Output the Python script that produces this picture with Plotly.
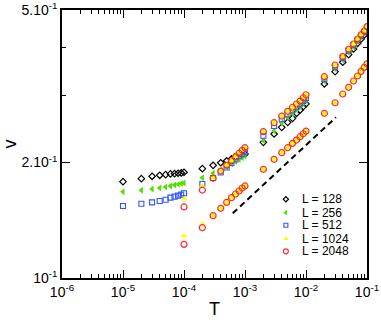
import plotly.graph_objects as go

# Temperatures
T_small = [1e-5, 2e-5, 3e-5, 4e-5, 5e-5, 6e-5, 7e-5, 8e-5, 9e-5, 1e-4,
           2e-4, 3e-4, 4e-4, 5e-4, 6e-4, 7e-4, 8e-4, 9e-4, 1e-3,
           2e-3, 3e-3, 4e-3, 5e-3, 6e-3, 7e-3, 8e-3, 9e-3, 1e-2,
           2e-2, 3e-2, 4e-2, 5e-2, 6e-2, 7e-2, 8e-2, 9e-2, 1e-1]
T_large = [1e-4,
           2e-4, 3e-4, 4e-4, 5e-4, 6e-4, 7e-4, 8e-4, 9e-4, 1e-3,
           2e-3, 3e-3, 4e-3, 5e-3, 6e-3, 7e-3, 8e-3, 9e-3, 1e-2,
           2e-2, 3e-2, 4e-2, 5e-2, 6e-2, 7e-2, 8e-2, 9e-2, 1e-1]

v_128 = [0.1783, 0.1816, 0.1842, 0.1853, 0.1860, 0.1868, 0.1871, 0.1876, 0.1879, 0.1887,
         0.1928, 0.1967, 0.1998, 0.2022, 0.2044, 0.2062, 0.2078, 0.2093, 0.2106,
         0.2259, 0.2375, 0.2472, 0.2547, 0.2609, 0.2689, 0.2743, 0.2798, 0.2844,
         0.3206, 0.3452, 0.3653, 0.3823, 0.3956, 0.4094, 0.4201, 0.4303, 0.4434]
v_256 = [0.1679, 0.1693, 0.1706, 0.1717, 0.1727, 0.1738, 0.1748, 0.1755, 0.1762, 0.1769,
         0.1826, 0.1876, 0.1913, 0.1948, 0.1983, 0.2013, 0.2037, 0.2059, 0.2081,
         0.2281, 0.2417, 0.2541, 0.2622, 0.2686, 0.2743, 0.2798, 0.2852, 0.2901,
         0.3265, 0.3509, 0.3704, 0.3874, 0.4004, 0.4138, 0.4252, 0.4355, 0.4461]
v_512 = [0.1541, 0.1562, 0.1575, 0.1588, 0.1600, 0.1620, 0.1630, 0.1640, 0.1650, 0.1663,
         0.1759, 0.1823, 0.1884, 0.1942, 0.1995, 0.2037, 0.2077, 0.2109, 0.2136,
         0.2350, 0.2491, 0.2594, 0.2670, 0.2734, 0.2788, 0.2839, 0.2895, 0.2948,
         0.3299, 0.3557, 0.3749, 0.3921, 0.4047, 0.4171, 0.4282, 0.4382, 0.4493]
v_1024_upper = [0.1607,
                0.1737, 0.1822, 0.1903, 0.1972, 0.2024, 0.2074, 0.2117, 0.2155, 0.2189,
                0.2410, 0.2543, 0.2647, 0.2723, 0.2790, 0.2845, 0.2896, 0.2954, 0.3008,
                0.3352, 0.3596, 0.3781, 0.3952, 0.4079, 0.4203, 0.4313, 0.4409, 0.4525]
v_1024_lower = [0.1287,
                0.1383, 0.1454, 0.1520, 0.1575, 0.1620, 0.1656, 0.1686, 0.1717, 0.1738,
                0.1921, 0.2040, 0.2123, 0.2187, 0.2245, 0.2290, 0.2336, 0.2378, 0.2417,
                0.2689, 0.2865, 0.3019, 0.3143, 0.3264, 0.3364, 0.3459, 0.3543, 0.3620]
v_2048_upper = [0.1532,
                0.1696, 0.1820, 0.1901, 0.1970, 0.2022, 0.2072, 0.2115, 0.2153, 0.2187,
                0.2408, 0.2541, 0.2645, 0.2721, 0.2788, 0.2843, 0.2894, 0.2952, 0.3006,
                0.3350, 0.3594, 0.3779, 0.3950, 0.4077, 0.4201, 0.4311, 0.4407, 0.4523]
v_2048_lower = [0.1224,
                0.1353, 0.1454, 0.1520, 0.1575, 0.1620, 0.1656, 0.1686, 0.1717, 0.1738,
                0.1921, 0.2040, 0.2123, 0.2187, 0.2245, 0.2290, 0.2336, 0.2378, 0.2417,
                0.2689, 0.2865, 0.3019, 0.3143, 0.3264, 0.3364, 0.3459, 0.3543, 0.3620]

# Guide line (power law)
T_guide = [6.3e-4, 3.1e-2]
v_guide = [0.1475, 0.2625]

labels = ["L = 128", "L = 256", "L = 512", "L = 1024", "L = 2048"]

x_tickvals = [1e-6, 1e-5, 1e-4, 1e-3, 1e-2, 1e-1]
x_ticktext = ["10<sup>-6</sup>", "10<sup>-5</sup>", "10<sup>-4</sup>",
              "10<sup>-3</sup>", "10<sup>-2</sup>", "10<sup>-1</sup>"]
y_tickvals = [0.1, 0.2, 0.5]
y_ticktext = ["10<sup>-1</sup>", "2.10<sup>-1</sup>", "5.10<sup>-1</sup>"]

styles = [
    dict(symbol="diamond-open", color="black", size=5, line=dict(width=1.2)),
    dict(symbol="triangle-left", color="#55dd00", size=6, line=dict(width=0)),
    dict(symbol="square-open", color="#3355ff", size=5, line=dict(width=1.1)),
    dict(symbol="triangle-up", color="#ffff00", size=6, line=dict(width=0)),
    dict(symbol="circle-open", color="#ff2a2a", size=6, line=dict(width=1.2)),
]

fig = go.Figure()

fig.add_trace(go.Scatter(x=T_guide, y=v_guide, mode="lines",
                         line=dict(color="black", width=2, dash="6px,4px"),
                         showlegend=False, hoverinfo="skip"))

series = [
    (T_small, v_128),
    (T_small, v_256),
    (T_small, v_512),
    (T_large + T_large, v_1024_upper + v_1024_lower),
    (T_large + T_large, v_2048_upper + v_2048_lower),
]
for (xs, ys), lab, st in zip(series, labels, styles):
    fig.add_trace(go.Scatter(x=xs, y=ys, mode="markers", name=lab,
                             marker=st, showlegend=False))

# Hand-drawn legend in a hidden overlay axis (0..1 box coordinates)
leg_x_marker = 0.734
leg_x_text = 0.779
leg_rows = [0.2937, 0.2437, 0.1966, 0.1466, 0.0996]
for lab, st, yy in zip(labels, styles, leg_rows):
    st_small = dict(st)
    st_small["size"] = st["size"] - 1
    fig.add_trace(go.Scatter(x=[leg_x_marker], y=[yy], mode="markers",
                             marker=st_small, showlegend=False,
                             xaxis="x2", yaxis="y2", hoverinfo="skip"))
    fig.add_annotation(x=leg_x_text, y=yy, xref="x2", yref="y2", text=lab,
                       showarrow=False, xanchor="left", yanchor="middle",
                       font=dict(size=12, color="black"))

x_minor = [m * 10.0 ** e for e in range(-6, -1) for m in range(2, 10)]

axis_common = dict(type="log", showgrid=False, zeroline=False, showline=True,
                   linecolor="black", linewidth=1.5, mirror="allticks",
                   ticks="inside", tickcolor="black", tickwidth=1,
                   automargin=False,
                   tickfont=dict(size=14, color="black"))

fig.update_layout(
    width=381, height=324,
    margin=dict(l=62, r=14, t=10, b=46),
    paper_bgcolor="white", plot_bgcolor="white",
    font=dict(family="Liberation Sans, Arial, sans-serif", color="black"),
    xaxis=dict(**axis_common, range=[-6, -1], tickmode="array",
               tickvals=x_tickvals, ticktext=x_ticktext, ticklen=8,
               minor=dict(tickmode="array", tickvals=x_minor, ticklen=4,
                          ticks="inside", tickcolor="black", tickwidth=1,
                          showgrid=False),
               title=dict(text="T", font=dict(size=18), standoff=4)),
    yaxis=dict(**axis_common, range=[-1, -0.30103], tickmode="array",
               tickvals=y_tickvals, ticktext=y_ticktext, ticklen=8,
               minor=dict(tickmode="array", tickvals=[0.3, 0.4], ticklen=4,
                          ticks="inside", tickcolor="black", tickwidth=1,
                          showgrid=False),
               title=dict(text="v", font=dict(size=18), standoff=4)),
    xaxis2=dict(overlaying="x", range=[0, 1], visible=False, fixedrange=True),
    yaxis2=dict(overlaying="y", range=[0, 1], visible=False, fixedrange=True),
    showlegend=False,
)

fig.write_html("out.html",
               config={"displayModeBar": False},
               post_script="document.body.style.margin='0';"
                           "document.body.style.overflow='hidden';")
